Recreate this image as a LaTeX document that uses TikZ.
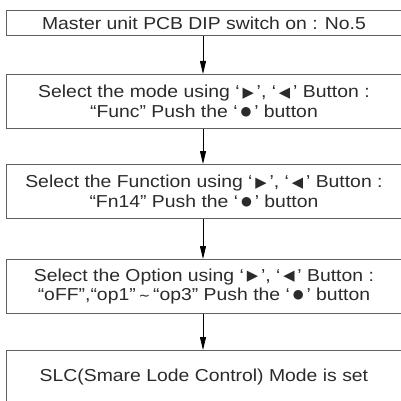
\documentclass[tikz,border=0pt]{standalone}
\usepackage{fontspec}
\setmainfont[FakeStretch=1.12]{Liberation Sans}
\newfontfamily\symfont{DejaVu Sans}
\usetikzlibrary{arrows.meta}
\newcommand{\rtri}{\raisebox{0.08ex}{\symfont\scalebox{0.85}{▶}}}
\newcommand{\ltri}{\raisebox{0.08ex}{\symfont\scalebox{0.85}{◀}}}
\newcommand{\bdot}{\raisebox{0.25ex}{\symfont\scalebox{0.72}{●}}}
\newcommand{\tld}{{\symfont\scalebox{0.8}{∼}}}
\definecolor{ink}{HTML}{2B2B2B}
\tikzset{
  stepbox/.style={draw=ink!75, line width=0.9pt, anchor=north west, minimum width=396pt,
    inner sep=0pt, align=center, text=ink, font=\fontsize{17.3}{19.5}\selectfont},
  flow/.style={draw=black, line width=0.8pt, -{Triangle[length=13pt,width=6pt]}}
}
\begin{document}
\begin{tikzpicture}[x=1pt,y=-1pt]
\useasboundingbox (0,0) rectangle (401,401);
\node[stepbox, minimum height=25pt] (s1) at (5.5,10) {Master unit PCB DIP switch on : No.5};
\node[stepbox, minimum height=54pt] (s2) at (5.5,74) {Select the mode using ‘\,\rtri\,’, ‘\,\ltri\,’ Button :\\“Func” Push the ‘\,\bdot\,’ button};
\node[stepbox, minimum height=54pt] (s3) at (5.5,164) {Select the Function using ‘\,\rtri\,’, ‘\,\ltri\,’ Button :\\“Fn14” Push the ‘\,\bdot\,’ button};
\node[stepbox, minimum height=54pt] (s4) at (5.5,259) {Select the Option using ‘\,\rtri\,’, ‘\,\ltri\,’ Button :\\“oFF”,“op1”\,\tld\,“op3” Push the ‘\,\bdot\,’ button};
\node[stepbox, minimum height=54pt] (s5) at (5.5,350) {SLC(Smare Lode Control) Mode is set};
\draw[flow] (s1.south -| 203,0) -- (s2.north -| 203,0);
\draw[flow] (s2.south -| 203,0) -- (s3.north -| 203,0);
\draw[flow] (s3.south -| 203,0) -- (s4.north -| 203,0);
\draw[flow] (s4.south -| 203,0) -- (s5.north -| 203,0);
\end{tikzpicture}
\end{document}
